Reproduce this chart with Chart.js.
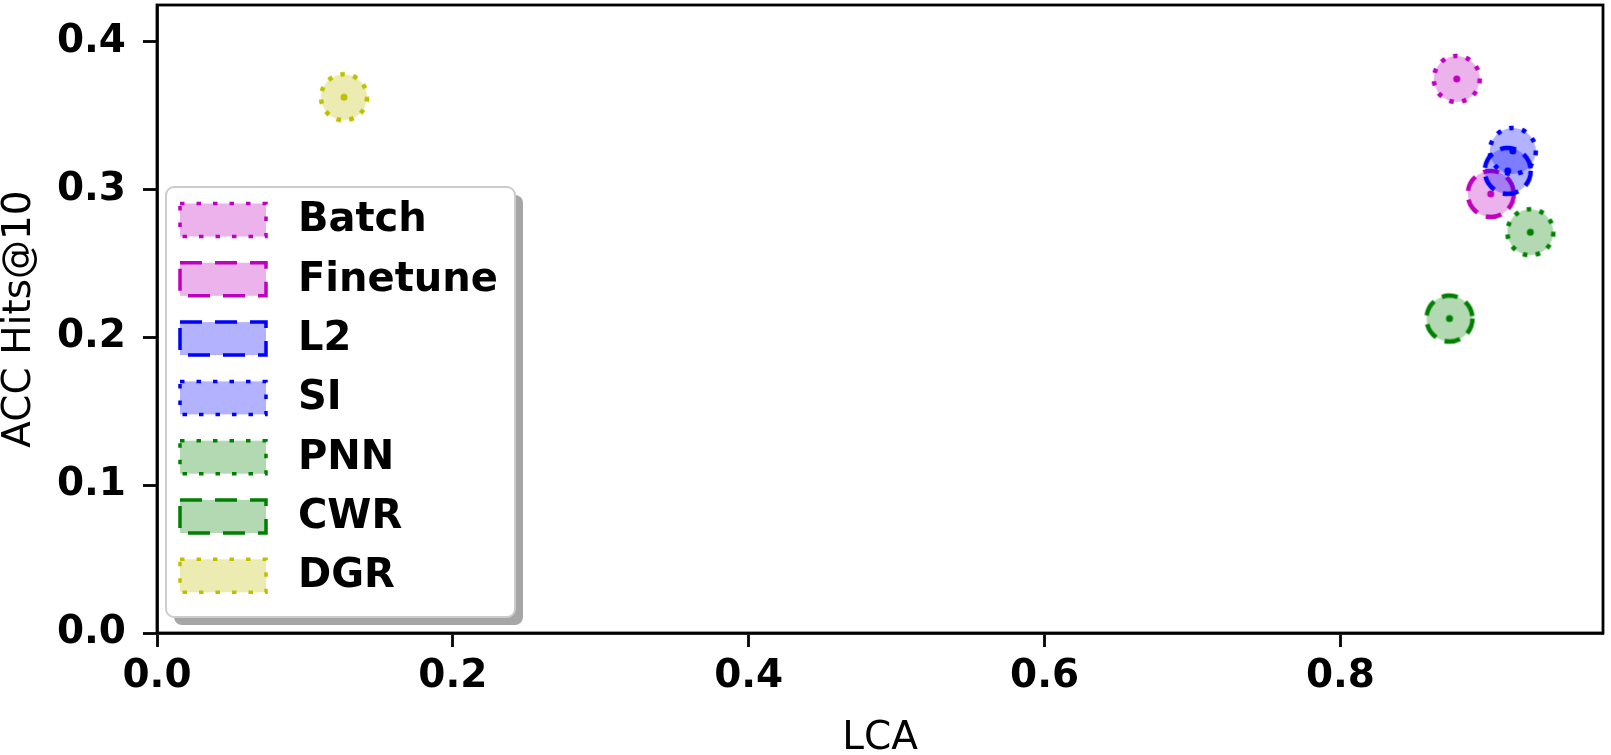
<!DOCTYPE html>
<html>
<head>
<meta charset="utf-8">
<script src="https://cdn.jsdelivr.net/npm/chart.js@4.4.0/dist/chart.umd.min.js"></script>
<style>
    html, body { margin: 0; padding: 0; background: #fff; }
    #wrap { width: 1611px; height: 755px; }
</style>
</head>
<body>
<div id="wrap"><canvas id="scatterChart" width="1611" height="755"></canvas></div>
<script>
const methodLabels = ["Batch", "Finetune", "L2", "SI", "PNN", "CWR", "DGR"];
const lcaValues = [0.8786, 0.9016, 0.9131, 0.9165, 0.9284, 0.8737, 0.1264];
const accValues = [0.3748, 0.2970, 0.3126, 0.3261, 0.2711, 0.2127, 0.3624];
const xTickValues = [0.0, 0.2, 0.4, 0.6, 0.8];
const yTickValues = [0.0, 0.1, 0.2, 0.3, 0.4];

const seriesColors = ["#BF00BF", "#BF00BF", "#0000FF", "#0000FF", "#008000", "#008000", "#BFBF00"];
const seriesLineStyles = ["dotted", "dashed", "dashed", "dotted", "dotted", "dashed", "dotted"];

const FONT = "DejaVu Sans";

function withAlpha(hex, a) {
    const n = parseInt(hex.slice(1), 16);
    return "rgba(" + (n >> 16 & 255) + "," + (n >> 8 & 255) + "," + (n & 255) + "," + a + ")";
}

// marker drawn once per series into a small canvas, used as the point style
function makeMarker(color, lineStyle) {
    const c = document.createElement("canvas");
    c.width = 60;
    c.height = 60;
    const g = c.getContext("2d");
    g.beginPath();
    g.arc(30, 30, 23, 0, Math.PI * 2);
    g.fillStyle = withAlpha(color, 0.3);
    g.fill();
    g.setLineDash(lineStyle === "dotted" ? [4.5, 8.5] : [16, 9]);
    g.lineWidth = 4.5;
    g.strokeStyle = color;
    g.stroke();
    g.setLineDash([]);
    g.beginPath();
    g.arc(30, 30, 3.5, 0, Math.PI * 2);
    g.fillStyle = color;
    g.fill();
    return c;
}

const datasets = methodLabels.map((label, i) => ({
    label: label,
    data: [{ x: lcaValues[i], y: accValues[i] }],
    pointStyle: makeMarker(seriesColors[i], seriesLineStyles[i]),
    order: methodLabels.length - i // later series on top, like the original
}));

const frameAndLegend = {
    id: "frameAndLegend",
    afterDraw(chart) {
        const { ctx, chartArea: a } = chart;
        ctx.save();

        ctx.strokeStyle = "#000";
        ctx.lineWidth = 2.8;
        ctx.strokeRect(a.left, a.top, a.right - a.left, a.bottom - a.top);

        // legend box with shadow
        const bx = a.left + 9, by = a.top + 182, bw = 349, bh = 430;
        const rr = (x, y, w, h, r) => {
            ctx.beginPath();
            ctx.moveTo(x + r, y);
            ctx.arcTo(x + w, y, x + w, y + h, r);
            ctx.arcTo(x + w, y + h, x, y + h, r);
            ctx.arcTo(x, y + h, x, y, r);
            ctx.arcTo(x, y, x + w, y, r);
            ctx.closePath();
        };
        rr(bx + 8, by + 8, bw, bh, 8);
        ctx.fillStyle = "rgba(0,0,0,0.35)";
        ctx.fill();
        rr(bx, by, bw, bh, 8);
        ctx.fillStyle = "#fff";
        ctx.fill();
        ctx.strokeStyle = "#cccccc";
        ctx.lineWidth = 2;
        ctx.stroke();

        ctx.font = "bold 40px '" + FONT + "'";
        ctx.textBaseline = "middle";
        ctx.textAlign = "left";
        methodLabels.forEach((label, i) => {
            const cy = by + 33 + i * 59.3;
            const sx = bx + 14;
            ctx.fillStyle = withAlpha(seriesColors[i], 0.3);
            ctx.fillRect(sx, cy - 16.5, 86, 33);
            ctx.setLineDash(seriesLineStyles[i] === "dotted" ? [4.5, 12] : [22, 13]);
            ctx.lineWidth = 3.5;
            ctx.strokeStyle = seriesColors[i];
            ctx.strokeRect(sx, cy - 16.5, 86, 33);
            ctx.setLineDash([]);
            ctx.fillStyle = "#000";
            ctx.fillText(label, bx + 132, cy + 1);
        });

        ctx.restore();
    }
};

const tickFont = { family: FONT, size: 39, weight: "bold" };

new Chart(document.getElementById("scatterChart"), {
    type: "scatter",
    data: { datasets: datasets },
    options: {
        responsive: false,
        animation: false,
        layout: { padding: { left: 0, right: 8, top: 5, bottom: 0 } },
        plugins: {
            legend: { display: false },
            tooltip: { enabled: false }
        },
        scales: {
            x: {
                type: "linear",
                min: 0,
                max: 0.9775,
                afterBuildTicks: (scale) => { scale.ticks = xTickValues.map(v => ({ value: v })); },
                afterFit: (scale) => { scale.height = 122; },
                ticks: {
                    font: tickFont,
                    color: "#000",
                    padding: 6,
                    maxRotation: 0,
                    callback: (v) => Number(v).toFixed(1)
                },
                grid: { drawOnChartArea: false, drawTicks: true, tickLength: 14, tickColor: "#000", tickWidth: 2.8 },
                border: { display: true, color: "#000", width: 2.8 },
                title: { display: true, text: "LCA", font: { family: FONT, size: 39, lineHeight: 0.75 }, color: "#000", padding: { top: 0, bottom: 2 } }
            },
            y: {
                type: "linear",
                min: 0,
                max: 0.4248,
                afterBuildTicks: (scale) => { scale.ticks = yTickValues.map(v => ({ value: v })); },
                afterFit: (scale) => {
                    scale.width = 157;
                    scale.paddingTop = 0;
                    scale.paddingBottom = 0;
                },
                ticks: {
                    font: tickFont,
                    color: "#000",
                    padding: 17,
                    callback: (v) => Number(v).toFixed(1)
                },
                grid: { drawOnChartArea: false, drawTicks: true, tickLength: 14, tickColor: "#000", tickWidth: 2.8 },
                border: { display: true, color: "#000", width: 2.8 },
                title: { display: true, text: "ACC Hits@10", font: { family: FONT, size: 39, lineHeight: 1 }, color: "#000", padding: 0 }
            }
        }
    },
    plugins: [frameAndLegend]
});
</script>
</body>
</html>
